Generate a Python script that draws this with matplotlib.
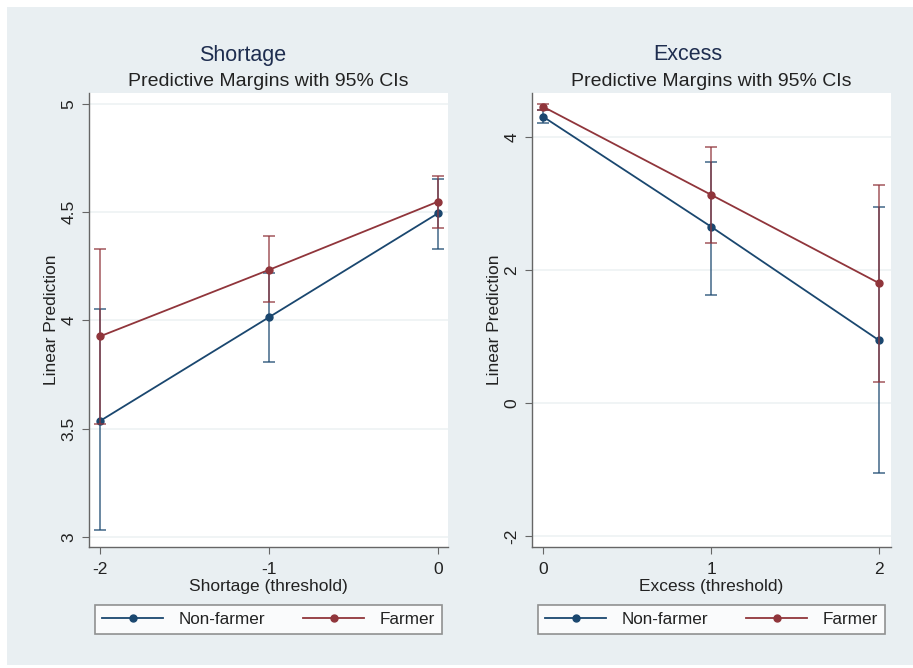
import numpy as np
import matplotlib
matplotlib.use("Agg")
from matplotlib import pyplot as plt
from matplotlib.patches import Rectangle

plt.rcParams['font.family'] = ['Liberation Sans', 'DejaVu Sans']

# Shortage panel
short_x = [-2, -1, 0]
short_nf = [3.535, 4.014, 4.494]
short_nf_lo = [3.03, 3.807, 4.33]
short_nf_hi = [4.05, 4.22, 4.655]
short_f = [3.926, 4.233, 4.548]
short_f_lo = [3.52, 4.083, 4.426]
short_f_hi = [4.33, 4.39, 4.668]

# Excess panel
exc_x = [0, 1, 2]
exc_nf = [4.305, 2.65, 0.94]
exc_nf_lo = [4.21, 1.62, -1.05]
exc_nf_hi = [4.40, 3.63, 2.95]
exc_f = [4.455, 3.13, 1.80]
exc_f_lo = [4.40, 2.41, 0.32]
exc_f_hi = [4.50, 3.85, 3.28]

navy = '#1a476f'
maroon = '#90353b'
bg = '#e9eff2'
grid_c = '#edf2f3'
W, H = 913, 668

fig = plt.figure(figsize=(9.13, 6.68), dpi=100, facecolor='white')
fig.patches.append(Rectangle((7 / W, 3 / H), 1 - 7 / W, (661 - 3) / H,
                             transform=fig.transFigure, facecolor=bg,
                             edgecolor='none', zorder=-10))


def panel(left, xs, nf, nf_lo, nf_hi, f, f_lo, f_hi, xlim, ylim, yticks,
          yticklabels, title, xlabel, title_x):
    ax = fig.add_axes([left / W, 121 / H, 359 / W, 454 / H])
    ax.set_facecolor('white')
    for vals, lo, hi, c, lab in [(nf, nf_lo, nf_hi, navy, 'Non-farmer'),
                                 (f, f_lo, f_hi, maroon, 'Farmer')]:
        vals = np.array(vals)
        err = [vals - np.array(lo), np.array(hi) - vals]
        ax.errorbar(xs, vals, yerr=err, fmt='none', ecolor=c, elinewidth=1.3,
                    capsize=4, capthick=1.3, alpha=0.7)
        ax.plot(xs, vals, color=c, lw=1.3, marker='o', markersize=5,
                label=lab)
    ax.set_xlim(*xlim)
    ax.set_ylim(*ylim)
    ax.set_xticks(xs)
    ax.set_xticklabels([str(v) for v in xs])
    ax.set_yticks(yticks)
    ax.set_yticklabels(yticklabels, rotation=90, va='center')
    ax.yaxis.grid(True, color=grid_c, lw=1.2)
    ax.set_axisbelow(True)
    for s in ['top', 'right']:
        ax.spines[s].set_visible(False)
    for s in ['left', 'bottom']:
        ax.spines[s].set_color('#666666')
        ax.spines[s].set_linewidth(1.0)
    ax.tick_params(axis='both', length=5, color='#666666', labelsize=12.5,
                   labelcolor='#222222', pad=4)
    ax.tick_params(axis='x', pad=6)
    ax.set_xlabel(xlabel, fontsize=12.5, color='#222222', labelpad=1)
    ax.set_ylabel('Linear Prediction', fontsize=12.5, color='#222222',
                  labelpad=2)
    fig.text(title_x / W, 1 - 55 / H, title, fontsize=15.5, color='#1e2d4f',
             ha='center', va='center')
    fig.text((left + 179.5) / W, 1 - 82 / H,
             'Predictive Margins with 95% CIs', fontsize=14,
             color='#222222', ha='center', va='center')
    leg = ax.legend(loc='center', bbox_to_anchor=(0.017, -0.196, 0.966, 0.073),
                    mode='expand', ncol=2, fontsize=12.3, frameon=True,
                    fancybox=False, edgecolor='#777777', handlelength=3.6,
                    handletextpad=0.9, borderaxespad=0, columnspacing=2,
                    borderpad=0.4)
    leg.get_frame().set_linewidth(1.2)
    for t in leg.get_texts():
        t.set_color('#222222')
    return ax


panel(89, short_x, short_nf, short_nf_lo, short_nf_hi, short_f, short_f_lo,
      short_f_hi, (-2.065, 0.06), (2.953, 5.05), [3, 3.5, 4, 4.5, 5],
      ['3', '3.5', '4', '4.5', '5'], 'Shortage', 'Shortage (threshold)', 243)
panel(532, exc_x, exc_nf, exc_nf_lo, exc_nf_hi, exc_f, exc_f_lo, exc_f_hi,
      (-0.065, 2.07), (-2.165, 4.66), [-2, 0, 2, 4],
      ['-2', '0', '2', '4'], 'Excess', 'Excess (threshold)', 688)

fig.savefig('out.png', dpi=100, facecolor='white')
